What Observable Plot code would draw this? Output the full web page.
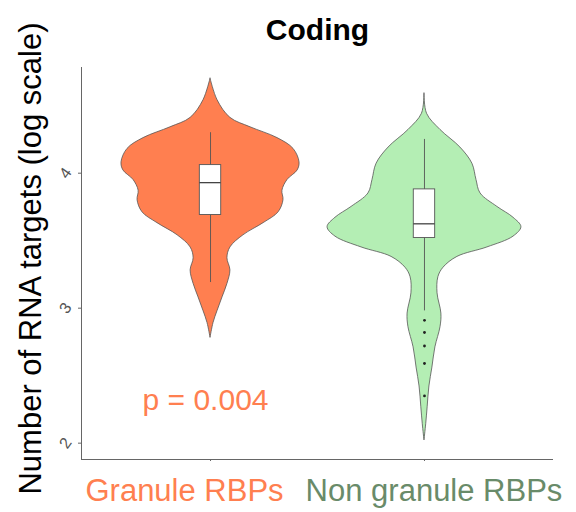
<!DOCTYPE html>
<html><head><meta charset="utf-8">
<script src="https://cdn.jsdelivr.net/npm/d3@7"></script>
<script src="https://cdn.jsdelivr.net/npm/@observablehq/plot@0.6"></script>
<style>body{margin:0;background:#fff}</style>
</head><body><div id="chart"></div>
<script>
// ---- data ----
const title = "Coding";
const yLabel = "Number of RNA targets (log scale)";
const categories = ["Granule RBPs", "Non granule RBPs"];
const fills = ["#FF7F50", "#B4EEB4"];
const labelColors = ["#FF7F50", "#698B69"];
const yTicks = [2, 3, 4];
const pLabel = "p = 0.004";

// violin outlines: log10 level and half width (density, x units)
const granuleLevels = [4.70,4.54,4.41,4.34,4.26,4.18,4.08,4.02,3.95,3.87,3.80,3.71,3.63,3.54,3.45,3.37,3.28,3.18,3.08,2.98,2.89,2.78];
const granuleWidths = [0,0.033,0.093,0.187,0.313,0.388,0.416,0.407,0.360,0.336,0.341,0.318,0.248,0.154,0.093,0.079,0.093,0.079,0.056,0.033,0.014,0];
const nonGranuleLevels = [4.59,4.44,4.32,4.19,4.07,3.95,3.85,3.75,3.67,3.60,3.53,3.45,3.38,3.30,3.23,3.11,2.96,2.86,2.71,2.56,2.42,2.27,2.14,2.02];
const nonGranuleWidths = [0,0.012,0.075,0.168,0.224,0.243,0.262,0.341,0.416,0.453,0.416,0.294,0.154,0.089,0.065,0.061,0.079,0.075,0.051,0.037,0.023,0.015,0.008,0];

// box plot statistics per category
const boxLow = [3.19, 2.98];
const boxQ1 = [3.69, 3.52];
const boxMedian = [3.93, 3.625];
const boxQ3 = [4.06, 3.88];
const boxHigh = [4.30, 4.25];
const nonGranuleOutliers = [2.91, 2.82, 2.72, 2.59, 2.35];

// ---- derived tables ----
const pos = (i) => i + 1;
const violins = [
  granuleLevels.map((v, k) => ({cat: 0, v, w: granuleWidths[k]})),
  nonGranuleLevels.map((v, k) => ({cat: 1, v, w: nonGranuleWidths[k]}))
];
const boxes = categories.map((c, i) => ({i, low: boxLow[i], q1: boxQ1[i], med: boxMedian[i], q3: boxQ3[i], high: boxHigh[i]}));
const outliers = nonGranuleOutliers.map(v => ({i: 1, v}));
const boxHalf = 0.05;
const font = "Liberation Sans, Arial, Helvetica, sans-serif";

const chart = Plot.plot({
  width: 576,
  height: 512,
  marginLeft: 81,
  marginRight: 23,
  marginTop: 67,
  marginBottom: 53,
  style: {fontFamily: font, background: "#fff"},
  x: {domain: [0.397, 2.603], axis: null},
  y: {domain: [1.879, 4.783], axis: null},
  marks: [
    // axes lines
    Plot.ruleX([0.397], {stroke: "#666", strokeWidth: 1}),
    Plot.ruleY([1.879], {stroke: "#666", strokeWidth: 1}),
    Plot.axisY({ticks: yTicks, tickSize: 3, tickFormat: () => "", stroke: "#666"}),
    Plot.axisX({ticks: categories.map((c, i) => pos(i)), tickSize: 2, tickFormat: () => "", stroke: "#666"}),
    Plot.text(yTicks, {y: d => d, text: d => String(d), frameAnchor: "left", dx: -16, rotate: -55,
      textAnchor: "middle", lineAnchor: "middle", fill: "#555", fontSize: 16}),
    // violins
    ...violins.map((vd, i) => Plot.areaX(vd, {
      y: "v", x1: d => pos(d.cat) - d.w, x2: d => pos(d.cat) + d.w,
      fill: fills[i], stroke: "#555", strokeWidth: 0.8, curve: "catmull-rom"
    })),
    // whiskers
    Plot.ruleX(boxes, {x: d => pos(d.i), y1: "low", y2: "high", stroke: "#555", strokeWidth: 0.9}),
    // boxes
    Plot.rect(boxes, {x1: d => pos(d.i) - boxHalf, x2: d => pos(d.i) + boxHalf, y1: "q1", y2: "q3",
      fill: "white", stroke: "#555", strokeWidth: 0.9}),
    Plot.ruleY(boxes, {y: "med", x1: d => pos(d.i) - boxHalf, x2: d => pos(d.i) + boxHalf, stroke: "#444", strokeWidth: 1.3}),
    // outliers
    Plot.dot(outliers, {x: d => pos(d.i), y: "v", r: 1.4, fill: "#222", stroke: null}),
    // p value
    Plot.text([pLabel], {x: pos(0), frameAnchor: "bottom", dx: -5, dy: -50, lineAnchor: "bottom",
      text: d => d, fill: labelColors[0], fontSize: 30}),
    // category labels
    Plot.text([categories[0]], {x: pos(0), frameAnchor: "bottom", dx: -26, dy: 41, lineAnchor: "bottom",
      text: d => d, fill: labelColors[0], fontSize: 31}),
    Plot.text([categories[1]], {x: pos(1), frameAnchor: "bottom", dx: 9.5, dy: 41, lineAnchor: "bottom",
      text: d => d, fill: labelColors[1], fontSize: 31}),
    // title
    Plot.text([title], {frameAnchor: "top", dy: -28, lineAnchor: "bottom", text: d => d,
      fontSize: 30, fontWeight: "bold", fill: "#000"}),
    // y label
    Plot.text([yLabel], {frameAnchor: "left", dx: -50, dy: -5, rotate: -90, textAnchor: "middle",
      lineAnchor: "middle", text: d => d, fontSize: 31, fill: "#000"})
  ]
});
document.getElementById("chart").appendChild(chart);
</script>
</body></html>
